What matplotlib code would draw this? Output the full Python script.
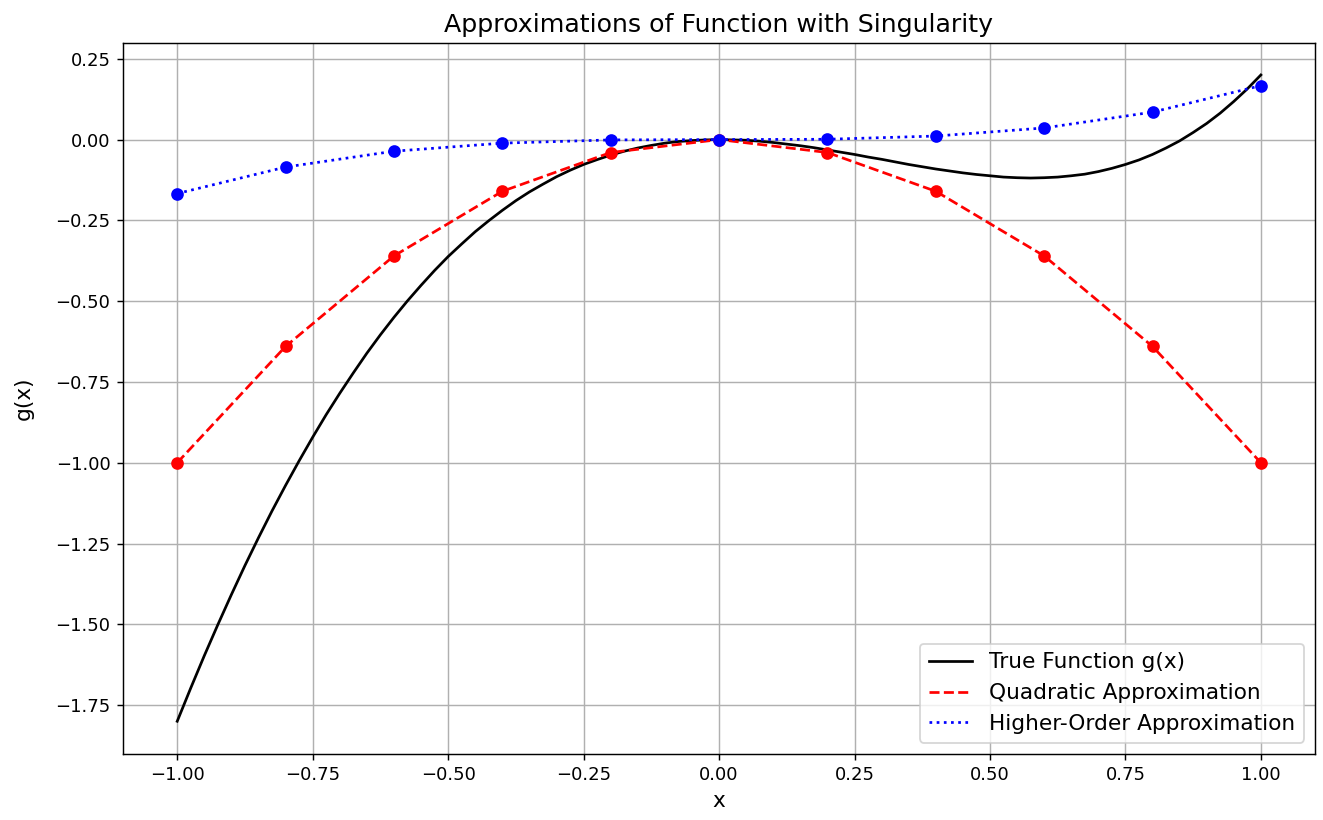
import matplotlib
matplotlib.use("Agg")
import matplotlib.pyplot as plt
import numpy as np

# true function, every 0.025 from -1 to 1
x_true = np.linspace(-1.0, 1.0, 81)
g_true = [-1.800, -1.697, -1.597, -1.501, -1.408, -1.318, -1.232, -1.149, -1.070, -0.994,
          -0.921, -0.851, -0.785, -0.722, -0.661, -0.604, -0.550, -0.499, -0.451, -0.405,
          -0.362, -0.323, -0.285, -0.251, -0.219, -0.189, -0.162, -0.138, -0.115, -0.095,
          -0.077, -0.062, -0.048, -0.036, -0.026, -0.018, -0.011, -0.006, -0.003, -0.001,
          0.000, -0.001, -0.002, -0.005, -0.009, -0.014, -0.019, -0.025, -0.032, -0.039,
          -0.046, -0.054, -0.061, -0.069, -0.077, -0.084, -0.091, -0.097, -0.103, -0.108,
          -0.112, -0.116, -0.118, -0.119, -0.118, -0.116, -0.112, -0.107, -0.099, -0.089,
          -0.077, -0.063, -0.046, -0.026, -0.004, 0.022, 0.050, 0.082, 0.118, 0.157,
          0.200]

# approximation points
x_pts = [-1.0, -0.8, -0.6, -0.4, -0.2, 0.0, 0.2, 0.4, 0.6, 0.8, 1.0]
quad = [-1.00, -0.64, -0.36, -0.16, -0.04, 0.00, -0.04, -0.16, -0.36, -0.64, -1.00]
higher = [-0.167, -0.085, -0.036, -0.011, -0.001, 0.000, 0.001, 0.011, 0.036, 0.085, 0.167]

fig, ax = plt.subplots(figsize=(1323/130, 820/130), dpi=130)
fig.subplots_adjust(left=0.093, right=0.994, top=0.948, bottom=0.081)

ax.plot(x_true, g_true, color='black', label='True Function g(x)')
ax.plot(x_pts, quad, 'r--', label='Quadratic Approximation')
ax.plot(x_pts, higher, 'b:', label='Higher-Order Approximation')
ax.plot(x_pts, quad, 'ro')
ax.plot(x_pts, higher, 'bo')

ax.set_title('Approximations of Function with Singularity', fontsize=14)
ax.set_xlabel('x', fontsize=12)
ax.set_ylabel('g(x)', fontsize=12, labelpad=12)
ax.legend(loc='lower right', fontsize=12)
ax.grid(True)

fig.savefig('out.png', dpi=130)
